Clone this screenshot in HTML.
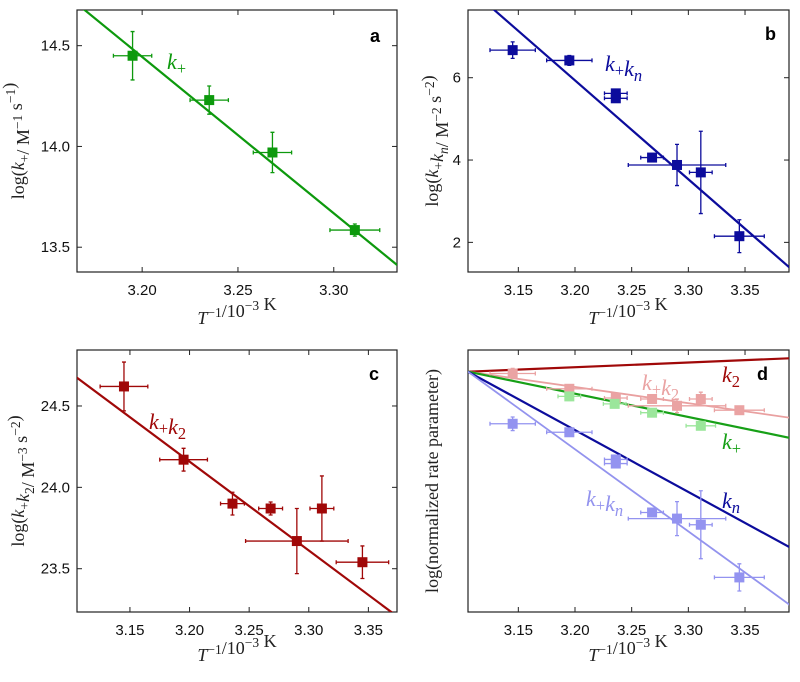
<!DOCTYPE html>
<html><head><meta charset="utf-8"><style>
body{margin:0;background:#fff}
svg text{font-family:"Liberation Sans",sans-serif}
.m{font-family:"Liberation Serif",serif}
</style></head><body>
<svg id="s" width="800" height="677" xmlns="http://www.w3.org/2000/svg"></svg>
<script>
// ---- data ----
const aX=[3.195,3.235,3.268,3.311];
const aY=[14.45,14.23,13.97,13.585];
const aXe=[0.01,0.01,0.01,0.013];
const aYe=[0.12,0.07,0.1,0.03];
const bX=[3.145,3.195,3.236,3.236,3.268,3.29,3.311,3.345];
const bY=[6.67,6.42,5.62,5.5,4.06,3.88,3.7,2.15];
const bXe=[0.02,0.02,0.01,0.01,0.01,0.043,0.01,0.022];
const bYe=[0.2,0.12,0.1,0.1,0.1,0.5,1.0,0.4];
const cX=[3.145,3.195,3.236,3.268,3.29,3.311,3.345];
const cY=[24.62,24.17,23.90,23.87,23.67,23.87,23.54];
const cXe=[0.02,0.02,0.01,0.01,0.043,0.01,0.022];
const cYe=[0.15,0.07,0.07,0.04,0.2,0.2,0.1];
// fit lines: [x at reference, y at reference, slope]
const aFit=[3.170,14.677,-7.76];
const bFit=[3.1288,7.645,-24.02];
const cFit=[3.113,24.633,-5.46];
// panel d slopes (normalized): k2, k+k2, k+, kn, k+kn
const dSlopes=[1.39,-4.77,-6.86,-18.2,-24.17];
const ticksA=[3.20,3.25,3.30], yticksA=[13.5,14.0,14.5];
const ticksB=[3.15,3.20,3.25,3.30,3.35], yticksB=[2,4,6];
const yticksC=[23.5,24.0,24.5];

const S=document.getElementById('s');const NS='http://www.w3.org/2000/svg';
function el(t,a,p){const e=document.createElementNS(NS,t);for(const k in a)e.setAttribute(k,a[k]);(p||S).appendChild(e);return e;}
function fitAt(f,x){return f[1]+f[2]*(x-f[0]);}

function panel(name,box,xr,yr,xt,yt,ydec,xdec){
  const g=el('g',{});
  
  
  const [L,T,R,B]=box;
  const sx=v=>L+(v-xr[0])/(xr[1]-xr[0])*(R-L);
  const sy=v=>B-(v-yr[0])/(yr[1]-yr[0])*(B-T);
  const cp='cp'+name;
  const c=el('clipPath',{id:cp},g);el('rect',{x:L,y:T,width:R-L,height:B-T},c);
  const fr=el('rect',{x:L,y:T,width:R-L,height:B-T,fill:'none',stroke:'#222','stroke-width':1.2},g);
  
  
  xt.forEach(v=>{const x=sx(v);
    el('line',{x1:x,x2:x,y1:B,y2:B-5,stroke:'#222'},g);el('line',{x1:x,x2:x,y1:T,y2:T+5,stroke:'#222'},g);
    const t=el('text',{x:x,y:B+23,'text-anchor':'middle','font-size':15,fill:'#111'},g);t.textContent=v.toFixed(xdec);
    
    });
  yt.forEach(v=>{const y=sy(v);
    el('line',{x1:L,x2:L+5,y1:y,y2:y,stroke:'#222'},g);el('line',{x1:R,x2:R-5,y1:y,y2:y,stroke:'#222'},g);
    const t=el('text',{x:L-7,y:y+5,'text-anchor':'end','font-size':15,fill:'#111'},g);t.textContent=v.toFixed(ydec);
    
    });
  const inner=el('g',{'clip-path':'url(#'+cp+')'},g);
  return {g,inner,sx,sy,L,T,R,B};
}
function series(P,X,Y,Xe,Ye,col,nm){
  X.forEach((x,i)=>{const px=P.sx(x),py=P.sy(Y[i]);
    const x1=P.sx(x-Xe[i]),x2=P.sx(x+Xe[i]),y1=P.sy(Y[i]+Ye[i]),y2=P.sy(Y[i]-Ye[i]);
    const e=el('path',{d:`M${x1},${py}H${x2}M${x1},${py-2}V${py+2}M${x2},${py-2}V${py+2}M${px},${y1}V${y2}M${px-2},${y1}H${px+2}M${px-2},${y2}H${px+2}`,stroke:col,'stroke-width':1.3,fill:'none'},P.g);
    
    
    const r=el('rect',{x:px-5,y:py-5,width:10,height:10,fill:col},P.g);
    
    });
}
function fitLine(P,x0,x1,fn,col,nm,w){
  const l=el('line',{x1:P.sx(x0),y1:P.sy(fn(x0)),x2:P.sx(x1),y2:P.sy(fn(x1)),stroke:col,'stroke-width':w||2.2},P.inner);
  
  
}
function txt(x,y,html,size,col,nm,anchor,rot,bold,cls){
  const t=el('text',{x:x,y:y,'font-size':size,fill:col,'text-anchor':anchor||'start'});
  if(cls)t.setAttribute('class',cls);
  if(bold)t.setAttribute('font-weight','bold');
  if(rot)t.setAttribute('transform',`rotate(-90 ${x} ${y})`);
  t.innerHTML=html;
  
  
  return t;
}
const sub=s=>`<tspan dy="5" font-size="0.75em">${s}</tspan><tspan dy="-5"></tspan>`;
const sup=s=>`<tspan dy="-7" font-size="0.75em">${s}</tspan><tspan dy="7"></tspan>`;
const kp='<tspan font-style="italic">k</tspan>'+sub('+');

const G='#0d990d',BL='#0c0c9c',RD='#a00808';
// a
const A=panel('panel-a',[77,10,397,272],[3.166,3.333],[13.377,14.677],ticksA,yticksA,1,2);
fitLine(A,3.16,3.34,x=>fitAt(aFit,x),G,'k-plus');
series(A,aX,aY,aXe,aYe,G,'k-plus');
// b
const XR=[3.1056,3.3888];
const Bp=panel('panel-b',[468,10,789,272],XR,[1.28,7.645],ticksB,yticksB,0,2);
fitLine(Bp,3.1,3.4,x=>fitAt(bFit,x),BL,'k-plus-kn');
series(Bp,bX,bY,bXe,bYe,BL,'k-plus-kn');
// c
const C=panel('panel-c',[77,350,397,612],[3.1056,3.374],[23.234,24.844],ticksB,yticksC,1,2);
fitLine(C,3.1,3.4,x=>fitAt(cFit,x),RD,'k-plus-k2');
series(C,cX,cY,cXe,cYe,RD,'k-plus-k2');
// d
const x0=XR[0];
const D=panel('panel-d',[468,350,789,612],XR,[-7.07,0.638],ticksB,[],0,2);
const dCols=['#a00808','#e9a0a0','#17a017','#0c0c9c','#9393ee'];
const dNames=['k2','k-plus-k2','k-plus','kn','k-plus-kn'];
const lite=(X,Y,f)=>Y.map((y,i)=>y-fitAt(f,x0));
series(D,cX,lite(cX,cY,cFit),cXe,cYe,'#eaa3a3','d-k-plus-k2');
series(D,aX,lite(aX,aY,aFit),aXe,aYe,'#9be69b','d-k-plus');
series(D,bX,lite(bX,bY,bFit),bXe,bYe,'#9393f0','d-k-plus-kn');
dSlopes.forEach((s,i)=>fitLine(D,x0,3.4,x=>s*(x-x0),dCols[i],'d-'+dNames[i],i==1||i==4?1.8:2.2));

// labels
txt(370,42,'a',18,'#000','panel-label-a','start',0,1);
txt(765,40,'b',18,'#000','panel-label-b','start',0,1);
txt(369,380,'c',18,'#000','panel-label-c','start',0,1);
txt(757,380,'d',18,'#000','panel-label-d','start',0,1);
txt(167,69,kp,22,G,'k-plus-label','start',0,0,'m');
txt(605,71,kp+'<tspan font-style="italic">k</tspan>'+sub('<tspan font-style="italic">n</tspan>'),22,BL,'k-plus-kn-label','start',0,0,'m');
txt(149,429,kp+'<tspan font-style="italic">k</tspan>'+sub('2'),22,RD,'k-plus-k2-label','start',0,0,'m');
txt(722,382,'<tspan font-style="italic">k</tspan>'+sub('2'),22,'#a00808','d-k2-label','start',0,0,'m');
txt(642,390,kp+'<tspan font-style="italic">k</tspan>'+sub('2'),22,'#eaa3a3','d-k-plus-k2-label','start',0,0,'m');
txt(722,449,kp,22,'#17a017','d-k-plus-label','start',0,0,'m');
txt(722,508,'<tspan font-style="italic">k</tspan>'+sub('<tspan font-style="italic">n</tspan>'),22,'#0c0c9c','d-kn-label','start',0,0,'m');
txt(586,506,kp+'<tspan font-style="italic">k</tspan>'+sub('<tspan font-style="italic">n</tspan>'),22,'#9393ee','d-k-plus-kn-label','start',0,0,'m');
const xl='<tspan font-style="italic">T</tspan>'+sup('−1')+'/10'+sup('−3')+' K';
txt(237,324,xl,18,'#222','x-axis-title-a','middle',0,0,'m');
txt(628,324,xl,18,'#222','x-axis-title-b','middle',0,0,'m');
txt(237,661,xl,18,'#222','x-axis-title-c','middle',0,0,'m');
txt(628,661,xl,18,'#222','x-axis-title-d','middle',0,0,'m');
txt(24,141,'log('+kp+'/ M'+sup('−1')+' s'+sup('−1')+')',18,'#222','y-axis-title-a','middle',1,0,'m');
txt(438,141,'log('+kp+'<tspan font-style="italic">k</tspan>'+sub('<tspan font-style="italic">n</tspan>')+'/ M'+sup('−2')+' s'+sup('−2')+')',18,'#222','y-axis-title-b','middle',1,0,'m');
txt(24,481,'log('+kp+'<tspan font-style="italic">k</tspan>'+sub('2')+'/ M'+sup('−3')+' s'+sup('−2')+')',18,'#222','y-axis-title-c','middle',1,0,'m');
txt(438,481,'log(normalized rate parameter)',18,'#222','y-axis-title-d','middle',1,0,'m');
</script>
</body></html>
